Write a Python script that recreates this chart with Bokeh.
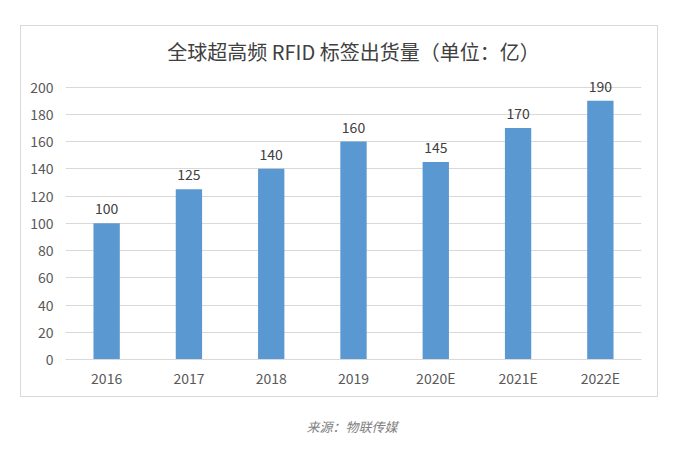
from bokeh.plotting import figure
from bokeh.layouts import column
from bokeh.models import FactorRange, Range1d, FixedTicker, ColumnDataSource
from bokeh.core.properties import value
from bokeh.embed import file_html
from bokeh.resources import INLINE

title_text = "全球超高频 RFID 标签出货量（单位：亿）"
source_text = "来源：物联传媒"
years = ["2016", "2017", "2018", "2019", "2020E", "2021E", "2022E"]
shipments = [100, 125, 140, 160, 145, 170, 190]
y_ticks = [0, 20, 40, 60, 80, 100, 120, 140, 160, 180, 200]

FONT = "Noto Sans CJK SC"

src = ColumnDataSource(dict(x=years, y=shipments, lbl=[str(v) for v in shipments]))

p = figure(width=638, height=372, x_range=FactorRange(*years, range_padding=0),
           y_range=Range1d(0, 210), output_backend="svg", toolbar_location=None,
           min_border_left=44, min_border_right=18, min_border_top=42, min_border_bottom=39,
           margin=(25, 0, 0, 20), styles={"border": "1px solid #d9d9d9"})
p.title.text = title_text
p.title.align = "center"
p.title.offset = -5
p.title.text_font = FONT
p.title.text_font_size = "20px"
p.title.text_font_style = "normal"
p.title.text_color = "#404040"
p.title.standoff = 16
p.outline_line_color = None
p.background_fill_color = "white"
p.border_fill_color = "white"

p.vbar(x="x", top="y", width=0.32, source=src, color="#5A98D2", line_color=None)
p.text(x="x", y="y", text="lbl", source=src, text_align="center", text_baseline="bottom",
       y_offset=-9, text_font=value(FONT), text_font_size="14px", text_color="#404040")

p.xgrid.visible = False
p.ygrid.grid_line_color = "#d9d9d9"
p.ygrid.grid_line_width = 1
p.yaxis.ticker = FixedTicker(ticks=y_ticks)
p.yaxis.axis_line_color = None
p.yaxis.major_tick_line_color = None
p.yaxis.minor_tick_line_color = None
p.yaxis.major_tick_out = 0
p.yaxis.major_label_standoff = 12
p.xaxis.axis_line_color = "#d9d9d9"
p.xaxis.major_tick_line_color = None
p.xaxis.major_tick_out = 0
p.xaxis.major_label_standoff = 8
for ax in (p.xaxis, p.yaxis):
    ax.major_label_text_font = FONT
    ax.major_label_text_font_size = "14px"
    ax.major_label_text_color = "#595959"

q = figure(width=677, height=46, x_range=Range1d(0, 1), y_range=Range1d(0, 1),
           output_backend="svg", toolbar_location=None,
           min_border=0, min_border_left=0, min_border_right=0, min_border_top=0, min_border_bottom=0)
q.axis.visible = False
q.grid.visible = False
q.outline_line_color = None
q.text(x=[0.5], y=[0.37], text=[source_text], text_align="center", text_baseline="middle",
       text_font=value(FONT), text_font_size="13px", text_font_style="italic", text_color="#7f7f7f")

layout = column(p, q, spacing=0)
open("out.html", "w").write(file_html(layout, INLINE))
